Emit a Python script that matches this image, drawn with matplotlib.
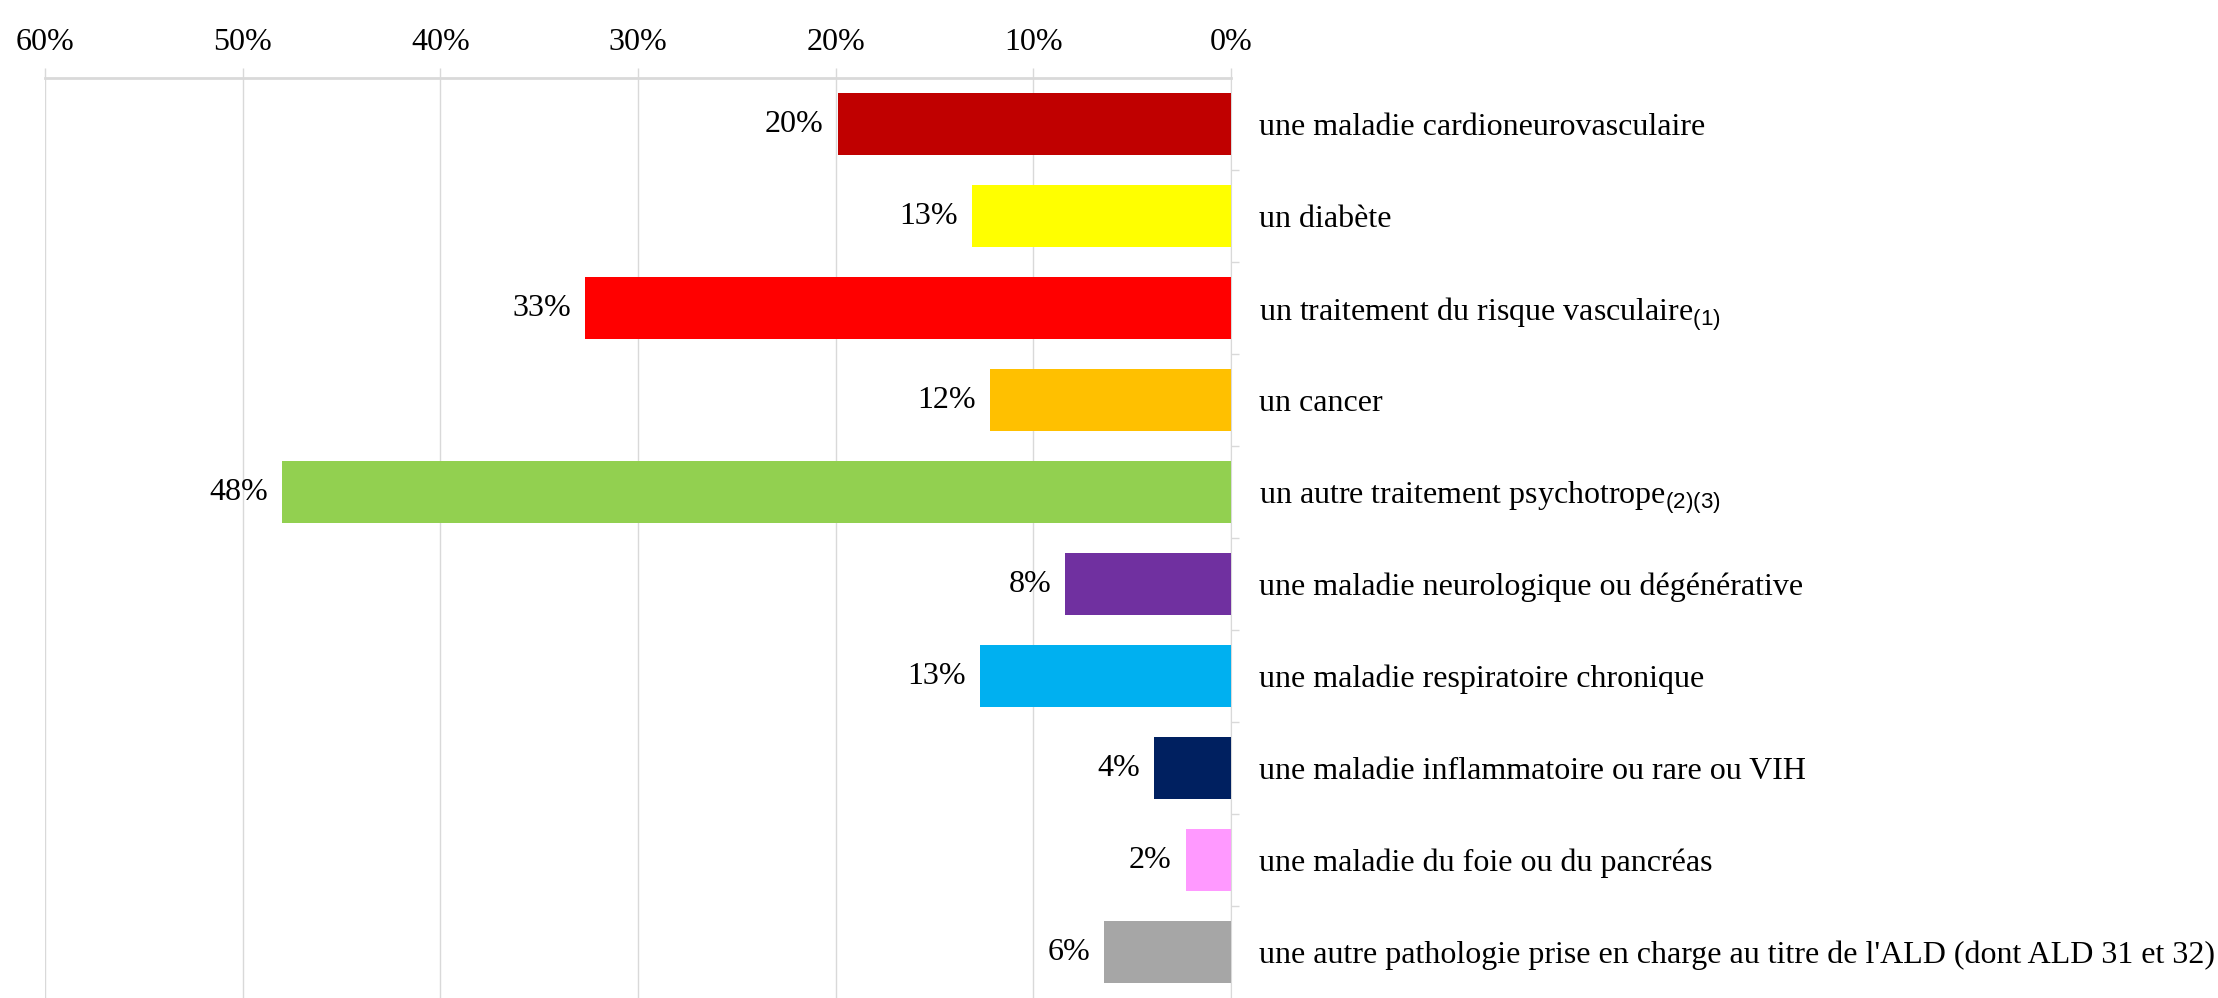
import matplotlib.pyplot as plt
import numpy as np

# categories, top to bottom
categories = [
    "une maladie cardioneurovasculaire",
    "un diabète",
    r"un traitement du risque vasculaire$_{\mathrm{(1)}}$",
    "un cancer",
    r"un autre traitement psychotrope$_{\mathrm{(2)(3)}}$",
    "une maladie neurologique ou dégénérative",
    "une maladie respiratoire chronique",
    "une maladie inflammatoire ou rare ou VIH",
    "une maladie du foie ou du pancréas",
    "une autre pathologie prise en charge au titre de l'ALD (dont ALD 31 et 32)",
]
values = [19.9, 13.1, 32.7, 12.2, 48.0, 8.4, 12.7, 3.9, 2.3, 6.4]
value_labels = ["20%", "13%", "33%", "12%", "48%", "8%", "13%", "4%", "2%", "6%"]
colors = ["#C00000", "#FFFF00", "#FF0000", "#FFC000", "#92D050",
          "#7030A0", "#00B0F0", "#002060", "#FF99FF", "#A6A6A6"]
x_ticks = [60, 50, 40, 30, 20, 10, 0]

plt.rcParams["font.family"] = ["Liberation Serif", "DejaVu Serif"]
plt.rcParams["mathtext.fontset"] = "custom"
plt.rcParams["mathtext.rm"] = "Liberation Sans"

fig = plt.figure(figsize=(22.18, 9.98), dpi=100)
ax = fig.add_axes([0.0203, 0.0, 0.555 - 0.0203, 0.9218])

y = np.arange(len(categories))
ax.barh(y, values, height=0.67, color=colors, zorder=3)

# value labels at bar ends
for yi, v, lab in zip(y, values, value_labels):
    ax.annotate(lab, xy=(v, yi), xytext=(-10, 0), textcoords="offset points",
                ha="right", va="center", fontsize=23, color="black")

ax.set_xlim(60, 0)
ax.set_ylim(len(categories) - 0.5, -0.5)

# x axis on top
ax.xaxis.tick_top()
ax.set_xticks(x_ticks)
ax.set_xticklabels([f"{t}%" for t in x_ticks], fontsize=23)
ax.tick_params(axis="x", length=7, width=1, color="#D9D9D9", pad=8)
ax.grid(axis="x", color="#D9D9D9", linewidth=1, zorder=0)

# category labels on the right
ax.yaxis.tick_right()
ax.set_yticks(y)
ax.set_yticklabels(categories, fontsize=23)
ax.tick_params(axis="y", which="major", length=0, pad=20)
ax.set_yticks(y[:-1] + 0.5, minor=True)
ax.tick_params(axis="y", which="minor", length=6, width=1, color="#D9D9D9")

for side in ["left", "bottom"]:
    ax.spines[side].set_visible(False)
ax.spines["right"].set_color("#D9D9D9")
ax.spines["top"].set_color("#D9D9D9")
ax.spines["top"].set_linewidth(2)

fig.savefig("out.png", dpi=100)
